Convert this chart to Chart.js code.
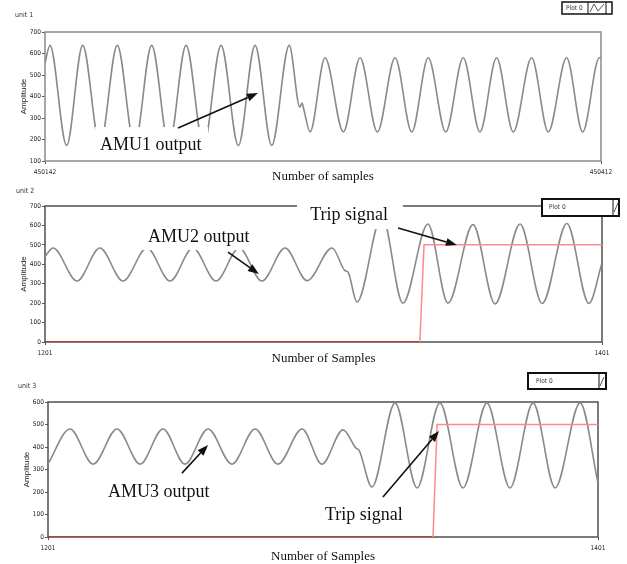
<!DOCTYPE html>
<html>
<head>
<meta charset="utf-8">
<script src="https://cdn.jsdelivr.net/npm/chart.js@4.4.0/dist/chart.umd.min.js"></script>
<style>
  html, body { margin: 0; padding: 0; background: #fff; }
  #wrap { position: relative; width: 627px; height: 564px; }
  canvas { position: absolute; left: 0; }
</style>
</head>
<body>
<div id="wrap">
  <canvas id="unit1" width="627" height="184" style="top:0px"></canvas>
  <canvas id="unit2" width="627" height="182" style="top:184px"></canvas>
  <canvas id="unit3" width="627" height="198" style="top:366px"></canvas>
</div>
<script>
// unit 1 - AMU1 output, turning points
const amu1Samples = [450142.0, 450144.4, 450152.5, 450160.3, 450168.7, 450177.1, 450185.5, 450193.8,
  450202.2, 450210.5, 450219.0, 450227.5, 450235.9, 450244.0, 450252.1, 450260.6, 450265.8, 450266.8,
  450267.8, 450270.7, 450278.0, 450286.9, 450295.0, 450303.4, 450312.0, 450320.1, 450328.1, 450336.6,
  450345.1, 450353.2, 450361.3, 450369.4, 450378.3, 450386.4, 450395.3, 450403.1, 450411.2, 450412.0];
const amu1Values = [555, 638, 172, 638, 172, 638, 172, 638,
  172, 638, 172, 638, 172, 638, 172, 638, 350, 370,
  335, 235, 580, 235, 580, 235, 580, 235, 580, 235,
  580, 235, 580, 235, 580, 235, 580, 235, 580, 578];

// unit 2 - AMU2 output and trip signal
const amu2Samples = [1201.0, 1203.9, 1212.5, 1220.7, 1229.0, 1237.6, 1245.9, 1254.1, 1262.4, 1270.7,
  1278.9, 1287.2, 1295.1, 1304.1, 1308.7, 1309.8, 1313.0, 1322.0, 1329.5, 1338.5, 1345.7, 1354.7,
  1362.6, 1371.6, 1379.5, 1388.4, 1396.3, 1401.0];
const amu2Values = [440, 484, 314, 484, 314, 484, 314, 484, 314, 484,
  314, 484, 316, 484, 368, 360, 206, 650, 200, 607, 200, 604,
  196, 607, 198, 610, 198, 407];
const trip2Samples = [1201, 1335.6, 1337.1, 1401];
const trip2Values = [0, 0, 500, 500];

// unit 3 - AMU3 output and trip signal
const amu3Samples = [1201.0, 1209.0, 1217.4, 1226.1, 1234.5, 1242.8, 1250.8, 1259.2, 1267.9, 1276.3,
  1284.6, 1293.4, 1300.6, 1308.3, 1313.0, 1314.1, 1318.8, 1327.2, 1335.2, 1343.5, 1351.9, 1360.6,
  1369.0, 1377.4, 1385.4, 1394.5, 1401.0];
const amu3Values = [325, 480, 324, 480, 324, 480, 324, 480, 324, 480,
  324, 480, 324, 476, 395, 386, 222, 596, 218, 596, 218, 596,
  218, 596, 218, 596, 240];
const trip3Samples = [1201, 1341.0, 1342.5, 1401];
const trip3Values = [0, 0, 500, 500];

const tickFont = { family: "'Liberation Sans Narrow', 'DejaVu Sans Condensed', sans-serif", size: 6.5 };
const serif = '"Liberation Serif", "Times New Roman", serif';

function toPoints(xs, ys) {
  return xs.map((x, i) => ({ x: x, y: ys[i] }));
}

function drawArrow(ctx, x0, y0, x1, y1) {
  const a = Math.atan2(y1 - y0, x1 - x0), head = 11, half = 4;
  const c = Math.cos(a), s = Math.sin(a);
  ctx.strokeStyle = '#111';
  ctx.fillStyle = '#111';
  ctx.lineWidth = 1.6;
  ctx.beginPath();
  ctx.moveTo(x0, y0);
  ctx.lineTo(x1 - head * c, y1 - head * s);
  ctx.stroke();
  ctx.beginPath();
  ctx.moveTo(x1, y1);
  ctx.lineTo(x1 - head * c + half * s, y1 - head * s - half * c);
  ctx.lineTo(x1 - head * c - half * s, y1 - head * s + half * c);
  ctx.closePath();
  ctx.fill();
}

// frame, white patches, labels, arrows and the little "Plot 0" box
function decorations(cfg) {
  return {
    id: 'decorations',
    beforeDatasetsDraw(chart) {
      const { ctx, chartArea: a } = chart;
      ctx.save();
      ctx.strokeStyle = cfg.frameColor;
      ctx.lineWidth = 1.5;
      ctx.strokeRect(a.left, a.top, a.right - a.left, a.bottom - a.top);
      ctx.restore();
    },
    afterDatasetsDraw(chart) {
      const { ctx } = chart;
      const x = chart.scales.x, y = chart.scales.y;
      ctx.save();
      ctx.fillStyle = '#fff';
      cfg.masks.forEach(m => {
        const x0 = x.getPixelForValue(m[0]), x1 = x.getPixelForValue(m[1]);
        const y0 = y.getPixelForValue(m[2]), y1 = y.getPixelForValue(m[3]);
        ctx.fillRect(x0, y0, x1 - x0, y1 - y0);
      });
      ctx.fillStyle = '#111';
      ctx.font = '18px ' + serif;
      ctx.textBaseline = 'alphabetic';
      cfg.notes.forEach(n => ctx.fillText(n.text, x.getPixelForValue(n.x), y.getPixelForValue(n.y)));
      cfg.arrows.forEach(ar => drawArrow(ctx,
        x.getPixelForValue(ar[0]), y.getPixelForValue(ar[1]),
        x.getPixelForValue(ar[2]), y.getPixelForValue(ar[3])));
      ctx.restore();
    },
    afterDraw(chart) {
      const { ctx } = chart;
      const lg = cfg.legend;
      ctx.save();
      ctx.fillStyle = '#333';
      ctx.font = "7px 'Liberation Sans Narrow', 'DejaVu Sans Condensed', sans-serif";
      ctx.textBaseline = 'middle';
      ctx.fillText(cfg.unit, cfg.unitPos[0], cfg.unitPos[1]);

      ctx.fillStyle = '#fff';
      ctx.fillRect(lg.x, lg.y, lg.w, lg.h);
      ctx.strokeStyle = '#111';
      ctx.lineWidth = lg.lw;
      ctx.strokeRect(lg.x, lg.y, lg.w, lg.h);
      ctx.lineWidth = 1;
      lg.dividers.forEach(d => {
        ctx.beginPath();
        ctx.moveTo(d, lg.y);
        ctx.lineTo(d, lg.y + lg.h);
        ctx.stroke();
      });
      ctx.fillStyle = '#333';
      ctx.font = "6.5px 'Liberation Sans Narrow', 'DejaVu Sans Condensed', sans-serif";
      ctx.fillText('Plot 0', lg.x + lg.textDx, lg.y + lg.h / 2);
      ctx.strokeStyle = '#555';
      ctx.beginPath();
      lg.icon.forEach((p, i) => i ? ctx.lineTo(p[0], p[1]) : ctx.moveTo(p[0], p[1]));
      ctx.stroke();
      ctx.restore();
    }
  };
}

function makeChart(id, o) {
  const datasets = [];
  if (o.trip) {
    datasets.push({
      data: o.trip,
      borderColor: '#ff8a8a',
      borderWidth: 1.5,
      pointRadius: 0,
      tension: 0,
      segment: {
        borderColor: c => (c.p0.parsed.y === 0 && c.p1.parsed.y === 0 ? '#cc2a2a' : undefined)
      }
    });
  }
  datasets.push({
    data: o.signal,
    borderColor: '#8a8a8a',
    borderWidth: 1.6,
    pointRadius: 0,
    cubicInterpolationMode: 'monotone'
  });

  return new Chart(document.getElementById(id).getContext('2d'), {
    type: 'line',
    data: { datasets: datasets },
    options: {
      responsive: false,
      animation: false,
      devicePixelRatio: 1,
      layout: { padding: { top: o.padTop, right: o.padRight, bottom: 0, left: 0 } },
      plugins: { legend: { display: false }, tooltip: { enabled: false } },
      scales: {
        x: {
          type: 'linear',
          min: o.xMin,
          max: o.xMax,
          afterBuildTicks: s => { s.ticks = [{ value: o.xMin }, { value: o.xMax }]; },
          afterFit: s => { s.height = o.xAxisH; },
          ticks: { font: tickFont, color: '#222', padding: 4, maxRotation: 0, autoSkip: false,
            callback: v => String(v) },
          grid: { drawOnChartArea: false, tickLength: 3, color: '#555' },
          border: { display: false },
          title: { display: true, text: o.xTitle, color: '#111',
            font: { family: serif, size: 13, lineHeight: 1.2 }, padding: { top: 0, bottom: 0 } }
        },
        y: {
          min: o.yMin,
          max: o.yMax,
          afterFit: s => { s.width = o.yAxisW; },
          ticks: { stepSize: 100, font: tickFont, color: '#222', padding: 1 },
          grid: { drawOnChartArea: false, tickLength: 3, color: '#555' },
          border: { display: false },
          title: { display: true, text: 'Amplitude', color: '#222',
            font: { family: "'Liberation Sans', sans-serif", size: 8, lineHeight: 1.2 },
            padding: { top: o.yTitlePad, bottom: 0 } }
        }
      }
    },
    plugins: [decorations(o.deco)]
  });
}

makeChart('unit1', {
  signal: toPoints(amu1Samples, amu1Values),
  xMin: 450142, xMax: 450412, yMin: 100, yMax: 700,
  padTop: 32, padRight: 26, xAxisH: 23, yAxisW: 45, yTitlePad: 19,
  xTitle: 'Number of samples',
  deco: {
    frameColor: '#8a8a8a',
    unit: 'unit 1', unitPos: [15, 15],
    masks: [[450166.3, 450221.2, 258, 112]],
    notes: [{ text: 'AMU1 output', x: 450168.7, y: 151 }],
    arrows: [[450206.6, 253, 450245.4, 416]],
    legend: { x: 562, y: 2, w: 50, h: 12, lw: 1.5, dividers: [588, 606], textDx: 4,
      icon: [[590, 12], [594, 4], [598, 11], [604, 4]] }
  }
});

makeChart('unit2', {
  signal: toPoints(amu2Samples, amu2Values),
  trip: toPoints(trip2Samples, trip2Values),
  xMin: 1201, xMax: 1401, yMin: 0, yMax: 700,
  padTop: 22, padRight: 25, xAxisH: 24, yAxisW: 45, yTitlePad: 19,
  xTitle: 'Number of Samples',
  deco: {
    frameColor: '#505050',
    unit: 'unit 2', unitPos: [16, 7],
    masks: [[1236.2, 1272.1, 618, 473], [1291.5, 1329.5, 741, 581]],
    notes: [{ text: 'AMU2 output', x: 1238.0, y: 515 }, { text: 'Trip signal', x: 1296.2, y: 628 }],
    arrows: [[1266.7, 463, 1277.8, 350], [1327.8, 587, 1348.9, 499]],
    legend: { x: 542, y: 15, w: 77, h: 17, lw: 2, dividers: [613], textDx: 7,
      icon: [[614, 28], [618, 19]] }
  }
});

makeChart('unit3', {
  signal: toPoints(amu3Samples, amu3Values),
  trip: toPoints(trip3Samples, trip3Values),
  xMin: 1201, xMax: 1401, yMin: 0, yMax: 600,
  padTop: 36, padRight: 29, xAxisH: 27, yAxisW: 48, yTitlePad: 22,
  xTitle: 'Number of Samples',
  deco: {
    frameColor: '#505050',
    unit: 'unit 3', unitPos: [18, 20],
    masks: [],
    notes: [{ text: 'AMU3 output', x: 1222.8, y: 178 }, { text: 'Trip signal', x: 1301.7, y: 76 }],
    arrows: [[1249.7, 284, 1259.2, 409], [1322.8, 178, 1343.2, 471]],
    legend: { x: 528, y: 7, w: 78, h: 16, lw: 2, dividers: [599], textDx: 8,
      icon: [[600, 20], [604, 11]] }
  }
});
</script>
</body>
</html>
